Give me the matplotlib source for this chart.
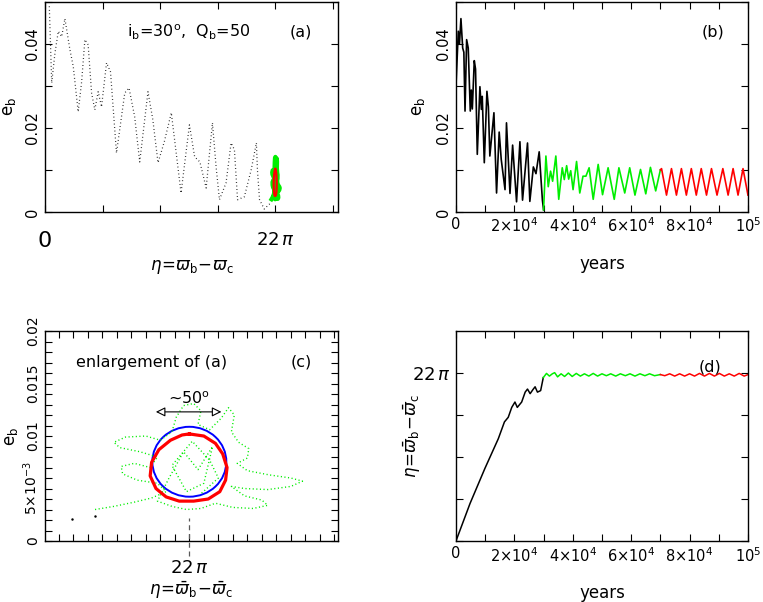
"""Four-panel figure: e_b and eta evolution, with an enlargement of the libration."""

import matplotlib
matplotlib.use("Agg")
import matplotlib.pyplot as plt
from matplotlib.patches import Ellipse
from matplotlib.ticker import MultipleLocator, FixedLocator, FixedFormatter
import numpy as np

plt.rcParams["font.family"] = ["DejaVu Sans"]
plt.rcParams["mathtext.fontset"] = "dejavusans"

# ---- panel (a): eta (in units of pi) vs e_b, black dotted trajectory ----
a_eta = [0.41, 0.64, 0.95, 1.27, 1.59, 1.9, 2.38, 2.7, 3.17, 3.5, 3.81, 4.12, 4.45,
         4.76, 5.08, 5.4, 5.88, 6.26, 6.83, 7.62, 8.03, 8.57, 9.05, 9.84, 10.3,
         10.8, 11.4, 12.07, 13.0, 13.8, 14.3, 14.8, 15.4, 16.0, 16.35, 16.67, 17.3,
         17.78, 18.1, 18.4, 19.05, 19.7, 20.2, 20.3, 20.5, 20.95, 21.55, 21.64]
a_e = [0.0489, 0.0307, 0.0378, 0.043, 0.0417, 0.046, 0.0386, 0.0346, 0.0238, 0.031,
       0.041, 0.0398, 0.0283, 0.0243, 0.0286, 0.025, 0.0355, 0.0333, 0.014, 0.0283,
       0.0295, 0.0226, 0.0119, 0.0286, 0.022, 0.0117, 0.0167, 0.0236, 0.0045, 0.0207,
       0.0131, 0.0119, 0.0057, 0.0212, 0.0107, 0.0029, 0.0069, 0.0164, 0.0148, 0.0029,
       0.0036, 0.01, 0.0164, 0.01, 0.0029, 0.0007, 0.0021, 0.0024]

# ---- libration around 22 pi: offsets in degrees, e_b ----
lib_green_deg = [-65, -52, -38, -26, -16, -22, -36, -46, -47, -38, -27, -22, -34, -48,
                 -52, -44, -30, -20, -12, -9, -4, 3, 8, 6, 14, 22, 27, 31, 29, 34, 41,
                 40, 33, 40, 55, 70, 78, 70, 54, 38, 29, 38, 50, 54, 44, 30, 18, 8, -2,
                 -12, -22, -14, -4, 6, 16, 10, -2, -12, 2, 14, 20, 8]
lib_green_e = [0.0030, 0.0033, 0.0037, 0.0041, 0.0047, 0.0055, 0.0058, 0.0064, 0.0071,
               0.0074, 0.0070, 0.0080, 0.0085, 0.0089, 0.0094, 0.0099, 0.0100, 0.0096,
               0.0104, 0.0118, 0.0129, 0.0131, 0.0124, 0.0111, 0.0106, 0.0117, 0.0127,
               0.0120, 0.0104, 0.0094, 0.0088, 0.0079, 0.0074, 0.0067, 0.0063, 0.0060,
               0.0057, 0.0052, 0.0049, 0.0050, 0.0052, 0.0043, 0.0039, 0.0034, 0.0031,
               0.0032, 0.0036, 0.0031, 0.0030, 0.0033, 0.0038, 0.0060, 0.0085, 0.0068,
               0.0090, 0.0055, 0.0047, 0.0072, 0.0095, 0.0077, 0.0060, 0.0045]
lib_red_deg = [0, 10, 18, 23, 26, 25, 21, 13, 3, -7, -16, -23, -27, -26, -21, -13, -5, 0]
lib_red_e = [0.0102, 0.0100, 0.0093, 0.0083, 0.0070, 0.0058, 0.0047, 0.0040, 0.0038,
             0.0038, 0.0042, 0.0050, 0.0062, 0.0075, 0.0087, 0.0096, 0.0101, 0.0102]
circle_center_e = 0.00755
circle_half_deg = 25.5
circle_half_e = 0.00333

# ---- panel (b): e_b vs years ----
b_black_t = [0, 800, 1200, 1700, 2300, 2700, 3100, 3650, 4200, 4900, 5250, 5600, 6270,
             6700, 7300, 8200, 8700, 9000, 9700, 10600, 11100, 11600, 13000, 13900,
             14800, 15500, 16800, 17300, 18500, 19400, 20750, 21900, 22800, 24500,
             25300, 26500, 27400, 28500, 29600, 30000]
b_black_e = [0.030, 0.043, 0.040, 0.046, 0.039, 0.038, 0.024, 0.041, 0.039, 0.024,
             0.029, 0.0245, 0.036, 0.034, 0.0137, 0.0298, 0.0244, 0.0275, 0.0117,
             0.0287, 0.025, 0.0133, 0.0236, 0.0045, 0.019, 0.0125, 0.0053, 0.0212,
             0.0044, 0.0159, 0.0024, 0.0167, 0.0028, 0.0164, 0.0025, 0.0107, 0.0091,
             0.0143, 0.0028, 0.0005]
b_green_t = [30000, 30800, 31600, 32400, 33100, 34200, 35200, 36400, 37100, 37900,
             38600, 39300, 40100, 41300, 42400, 43500, 44500, 45600, 47000, 48700,
             50200, 52100, 54200, 55800, 57800, 59500, 61300, 63200, 65000, 66600,
             68400, 70000]
b_green_e = [0.0005, 0.0133, 0.006, 0.0097, 0.0073, 0.0133, 0.003, 0.0105, 0.0077,
             0.011, 0.0078, 0.0098, 0.0053, 0.012, 0.0045, 0.0085, 0.0085, 0.0105,
             0.003, 0.0113, 0.0041, 0.0105, 0.003, 0.0105, 0.0045, 0.0105, 0.004,
             0.0101, 0.0043, 0.0106, 0.005, 0.0100]
b_red_t = [70000, 70400, 72100, 73800, 75500, 77200, 78900, 80600, 82300, 84000,
           85800, 87500, 89400, 91400, 93200, 94900, 96600, 98300, 100000]
b_red_e = [0.0100, 0.0103, 0.004, 0.0103, 0.004, 0.0103, 0.004, 0.0103, 0.004, 0.0103,
           0.004, 0.0103, 0.004, 0.0103, 0.004, 0.0103, 0.004, 0.0103, 0.004]

# ---- panel (d): eta (units of pi) vs years ----
d_black_t = [0, 4800, 9900, 14500, 16600, 17900, 19100, 20200, 21000, 22500, 23700,
             24500, 25400, 26300, 27100, 27900, 29000, 29900]
d_black_eta = [0, 4.9, 9.5, 13.4, 15.6, 16.2, 17.5, 18.2, 17.5, 18.2, 19.5, 19.9, 19.3,
               19.8, 20.2, 19.5, 19.7, 21.4]
d_green_t = [29900, 31000, 32000, 33000, 33800, 34800, 36000, 37200, 38500, 39800,
             41200, 42600, 44000, 45500, 47000, 48500, 50000, 51500, 53000, 54700,
             56300, 58000, 59600, 61300, 63000, 64700, 66300, 68000, 70000]
d_green_eta = [21.4, 21.95, 21.6, 21.9, 22.05, 21.5, 21.9, 21.55, 22.0, 21.55, 21.95,
               21.6, 21.9, 21.6, 21.95, 21.6, 21.9, 21.65, 21.9, 21.6, 21.9, 21.65,
               21.9, 21.6, 21.9, 21.65, 21.9, 21.65, 21.8]
d_red_t = [70000, 71500, 73200, 74900, 76600, 78300, 80000, 81700, 83400, 85100, 86800,
           88500, 90200, 91900, 93600, 95300, 97000, 98700, 100000]
d_red_eta = [21.8, 21.65, 21.9, 21.6, 21.9, 21.6, 21.9, 21.6, 21.95, 21.6, 21.95, 21.6,
             21.95, 21.6, 21.9, 21.6, 21.95, 21.6, 21.8]

GREEN = "#00ee00"
RED = "#ff0000"
BLUE = "#0000ff"
ETA_AB = r"$\eta\!=\!\varpi_{\rm b}\!-\!\varpi_{\rm c}$"
ETA_BAR = r"$\eta\!=\!\bar{\varpi}_{\rm b}\!-\!\bar{\varpi}_{\rm c}$"
YEAR_LABELS = ["0", "", r"2$\times$10$^4$", "", r"4$\times$10$^4$", "",
               r"6$\times$10$^4$", "", r"8$\times$10$^4$", "", r"10$^5$"]


def style(ax):
    ax.tick_params(direction="in", top=True, right=True, length=5, width=0.8,
                   labelsize=10.5)
    for spine in ax.spines.values():
        spine.set_linewidth(1.0)


def vertical_ylabels(ax):
    ax.tick_params(axis="y", labelrotation=90)
    for lab in ax.get_yticklabels():
        lab.set_va("center")


fig = plt.figure(figsize=(7.63, 6.02), dpi=100)
ax_a = fig.add_axes([0.059, 0.648, 0.384, 0.349])
ax_b = fig.add_axes([0.5976, 0.648, 0.3827, 0.349])
ax_c = fig.add_axes([0.059, 0.1013, 0.384, 0.3488])
ax_d = fig.add_axes([0.5976, 0.1013, 0.3827, 0.3488])

green_eta = [22 + d / 180 for d in lib_green_deg]
red_eta = [22 + d / 180 for d in lib_red_deg]

# (a)
ax_a.plot(a_eta, a_e, color="black", lw=0.9, ls=(0, (0.6, 2.2)))
ax_a.plot(green_eta, lib_green_e, color=GREEN, lw=3.0)
ax_a.plot(red_eta, lib_red_e, color=RED, lw=1.6)
ax_a.set_xlim(0, 28)
ax_a.set_ylim(0, 0.05)
style(ax_a)
ax_a.xaxis.set_major_locator(FixedLocator([0, 5.5, 11, 16.5, 22, 27.5]))
ax_a.xaxis.set_major_formatter(FixedFormatter(["", "", "", "", "", ""]))
ax_a.set_yticks([0, 0.01, 0.02, 0.03, 0.04, 0.05])
ax_a.set_yticklabels(["0", "", "0.02", "", "0.04", ""])
vertical_ylabels(ax_a)
ax_a.text(0, -0.0045, "0", ha="center", va="top", fontsize=16, clip_on=False)
ax_a.text(22, -0.0045, r"22$\,\pi$", ha="center", va="top", fontsize=13, clip_on=False)
ax_a.set_xlabel(ETA_AB, fontsize=12, labelpad=30)
ax_a.set_ylabel(r"e$_{\rm b}$", fontsize=12)
ax_a.yaxis.set_label_coords(-0.092, 0.5)
ax_a.text(0.49, 0.857, r"i$_{\rm b}$=30$^{\rm o}$,  Q$_{\rm b}$=50", transform=ax_a.transAxes,
          ha="center", va="center", fontsize=11.5)
ax_a.text(0.874, 0.857, "(a)", transform=ax_a.transAxes, ha="center", va="center",
          fontsize=11.5)

# (b)
ax_b.plot(b_black_t, b_black_e, color="black", lw=1.2)
ax_b.plot(b_green_t, b_green_e, color=GREEN, lw=1.2)
ax_b.plot(b_red_t, b_red_e, color=RED, lw=1.2)
ax_b.set_xlim(0, 1e5)
ax_b.set_ylim(0, 0.05)
style(ax_b)
ax_b.set_xticks(np.arange(0, 100001, 10000))
ax_b.set_xticklabels(YEAR_LABELS)
ax_b.set_yticks([0, 0.01, 0.02, 0.03, 0.04, 0.05])
ax_b.set_yticklabels(["0", "", "0.02", "", "0.04", ""])
vertical_ylabels(ax_b)
ax_b.set_xlabel("years", fontsize=12, labelpad=14)
ax_b.set_ylabel(r"e$_{\rm b}$", fontsize=12)
ax_b.yaxis.set_label_coords(-0.099, 0.5)
ax_b.text(0.88, 0.857, "(b)", transform=ax_b.transAxes, ha="center", va="center",
          fontsize=11.5)

# (c)
ax_c.plot(green_eta, lib_green_e, color=GREEN, lw=1.0, ls=(0, (0.8, 1.8)))
ax_c.plot(red_eta, lib_red_e, color=RED, lw=2.3, solid_joinstyle="round")
ax_c.add_patch(Ellipse((22, circle_center_e), 2 * circle_half_deg / 180,
                       2 * circle_half_e, fill=False, ec=BLUE, lw=1.4))
ax_c.plot(a_eta, a_e, ls="none", marker=".", ms=1.5, color="black")
ax_c.set_xlim(22 - 99.5 / 180, 22 + 102.5 / 180)
ax_c.set_ylim(0, 0.02)
style(ax_c)
ax_c.xaxis.set_major_locator(FixedLocator(22 + np.arange(-90, 101, 10) / 180))
ax_c.xaxis.set_major_formatter(FixedFormatter([""] * 20))
ax_c.yaxis.set_minor_locator(MultipleLocator(0.001))
ax_c.tick_params(which="minor", direction="in", top=True, right=True, length=5, width=0.8)
ax_c.set_yticks([0, 0.005, 0.01, 0.015, 0.02])
ax_c.set_yticklabels(["0", r"5$\times$10$^{-3}$", "0.01", "0.015", "0.02"], fontsize=10)
vertical_ylabels(ax_c)
ax_c.axvline(22, ymin=-0.07, ymax=0.11, color="0.35", lw=0.9, ls=(0, (4, 3)),
             clip_on=False)
ax_c.text(22, -0.0017, r"22$\,\pi$", ha="center", va="top", fontsize=13, clip_on=False)
ax_c.set_xlabel(ETA_BAR, fontsize=12, labelpad=24)
ax_c.set_ylabel(r"e$_{\rm b}$", fontsize=12)
ax_c.yaxis.set_label_coords(-0.086, 0.5)
ax_c.annotate("", xy=(22 + 24 / 180, 0.0123), xytext=(22 - 25 / 180, 0.0123),
              arrowprops=dict(arrowstyle="<|-|>", fc="white", ec="black", lw=0.8,
                              mutation_scale=14))
ax_c.text(22, 0.0128, r"~50$^{\rm o}$", ha="center", va="bottom", fontsize=11.5)
ax_c.text(0.362, 0.852, "enlargement of (a)", transform=ax_c.transAxes, ha="center",
          va="center", fontsize=11.5)
ax_c.text(0.874, 0.852, "(c)", transform=ax_c.transAxes, ha="center", va="center",
          fontsize=11.5)

# (d)
ax_d.plot(d_black_t, d_black_eta, color="black", lw=1.1)
ax_d.plot(d_green_t, d_green_eta, color=GREEN, lw=1.1)
ax_d.plot(d_red_t, d_red_eta, color=RED, lw=1.1)
ax_d.set_xlim(0, 1e5)
ax_d.set_ylim(0, 27.5)
style(ax_d)
ax_d.set_xticks(np.arange(0, 100001, 10000))
ax_d.set_xticklabels(YEAR_LABELS)
ax_d.set_yticks([0, 5.5, 11, 16.5, 22])
ax_d.set_yticklabels(["", "", "", "", r"22$\,\pi$"], fontsize=13)
ax_d.set_xlabel("years", fontsize=12, labelpad=14)
ax_d.set_ylabel(ETA_BAR, fontsize=12)
ax_d.yaxis.set_label_coords(-0.113, 0.5)
ax_d.text(0.87, 0.83, "(d)", transform=ax_d.transAxes, ha="center", va="center",
          fontsize=11.5)

fig.savefig("out.png", dpi=100)
